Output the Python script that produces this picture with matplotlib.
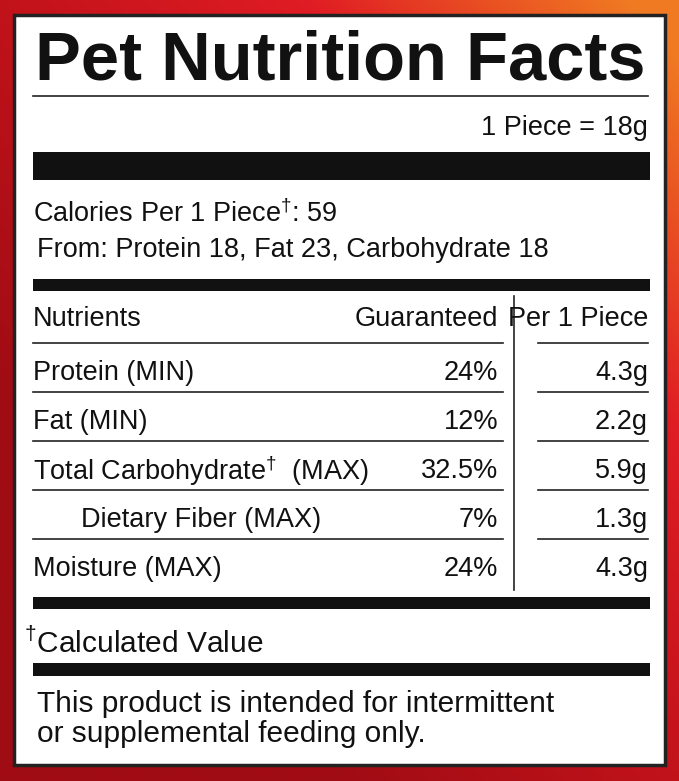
import numpy as np
import matplotlib
matplotlib.use("Agg")
import matplotlib.pyplot as plt
from matplotlib.colors import LinearSegmentedColormap

title = "Pet Nutrition Facts"
serving = "1 Piece = 18g"
calories = "Calories Per 1 Piece$^{\\dagger}$: 59"
cal_from = "From: Protein 18, Fat 23, Carbohydrate 18"
headers = ["Nutrients", "Guaranteed", "Per 1 Piece"]
nutrients = ["Protein (MIN)", "Fat (MIN)", "Total Carbohydrate$^{\\dagger}$  (MAX)", "Dietary Fiber (MAX)", "Moisture (MAX)"]
indent = [0, 0, 0, 1, 0]
guaranteed = ["24%", "12%", "32.5%", "7%", "24%"]
per_piece = ["4.3g", "2.2g", "5.9g", "1.3g", "4.3g"]
footnote = "$^{\\dagger}$Calculated Value"
notice = ["This product is intended for intermittent", "or supplemental feeding only."]

plt.rcParams["mathtext.fontset"] = "custom"
plt.rcParams["mathtext.rm"] = "Liberation Sans"

W, H = 679, 781
fig = plt.figure(figsize=(W/100, H/100), dpi=100)
ax = fig.add_axes([0, 0, 1, 1])
ax.set_xlim(0, W); ax.set_ylim(H, 0); ax.axis("off")

yy, xx = np.mgrid[0:H:2, 0:W:2]
t = np.clip(0.7*(xx/W) - 0.7*(yy/H) + 0.35, 0, 1)
cmap = LinearSegmentedColormap.from_list("g", ["#a00c14", "#c0121a", "#e01c24", "#f07a22"], N=256)
ax.imshow(t, cmap=cmap, extent=[0, W, H, 0], aspect="auto", zorder=0, vmin=0, vmax=1)

ax.add_patch(plt.Rectangle((14, 15), 651, 750, facecolor="white", edgecolor="#222", lw=2.5, zorder=1))

fam = ["Liberation Sans", "DejaVu Sans"]
fs = 19.5
d = 3
k = dict(family=fam, fontsize=fs, color="#111", va="center", zorder=3)
k2 = dict(k, fontsize=21.5)

ax.text(340, 61, title, ha="center", va="center", fontsize=49.5, fontweight="bold",
        family=fam, color="#111", zorder=3)
ax.plot([33, 648], [96, 96], color="#222", lw=1.2, zorder=2)
ax.text(648, 125 + d, serving, ha="right", **k)

def bar(y0, y1):
    ax.add_patch(plt.Rectangle((33, y0), 617, y1-y0, facecolor="#111", zorder=2))

bar(152, 180)
ax.text(33, 211 + d, calories, ha="left", **k)
ax.text(37, 247 + d, cal_from, ha="left", **k)
bar(279, 291)

ax.text(33, 316 + d, headers[0], ha="left", **k)
ax.text(498, 316 + d, headers[1], ha="right", **k)
ax.text(648, 316 + d, headers[2], ha="right", **k)
ax.plot([514, 514], [296, 590], color="#222", lw=1.2, zorder=2)

y = 370
for i, n in enumerate(nutrients):
    ly = y - 27
    ax.plot([33, 503], [ly, ly], color="#222", lw=1.2, zorder=2)
    ax.plot([538, 648], [ly, ly], color="#222", lw=1.2, zorder=2)
    ax.text(33 + 48*indent[i], y + d, n, ha="left", **k)
    ax.text(498, y + d, guaranteed[i], ha="right", **k)
    ax.text(648, y + d, per_piece[i], ha="right", **k)
    y += 49

bar(597, 609)
ax.text(24, 640 + d, footnote, ha="left", **k2)
bar(663, 676)
ax.text(37, 701 + d, notice[0], ha="left", **k2)
ax.text(37, 731 + d, notice[1], ha="left", **k2)

fig.savefig("out.png", dpi=100)
